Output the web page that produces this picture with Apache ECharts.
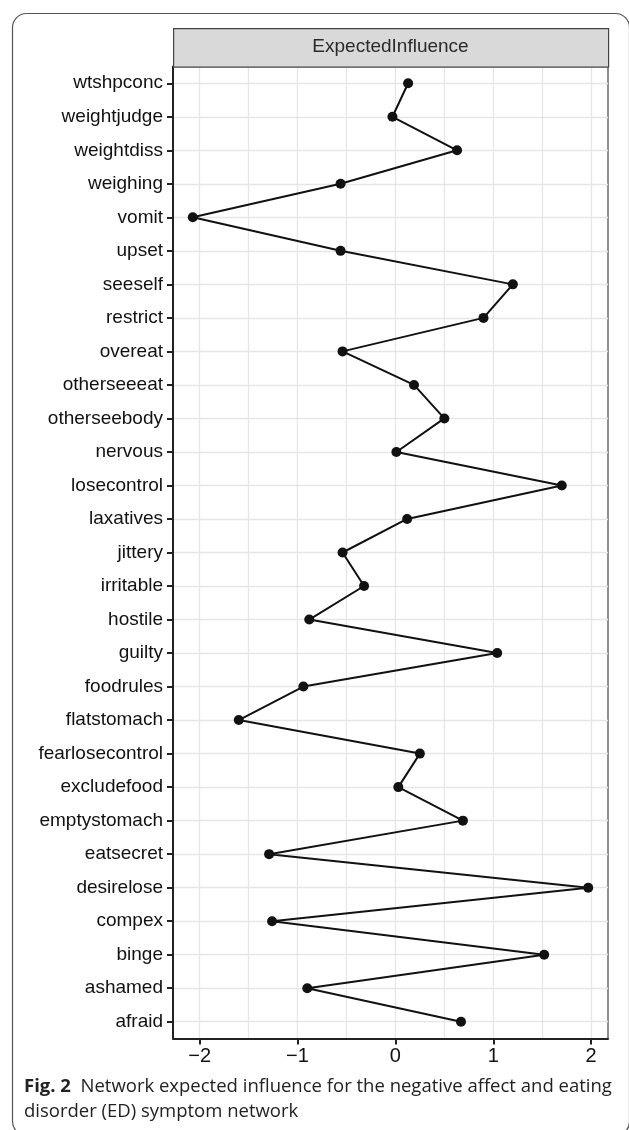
<!DOCTYPE html>
<html>
<head>
<meta charset="utf-8">
<script src="https://cdn.jsdelivr.net/npm/echarts@6/dist/echarts.min.js"></script>
<style>
html,body{margin:0;padding:0;background:#fff;}
#chart{width:629px;height:1130px;}
</style>
</head>
<body>
<div id="chart"></div>
<script>
const categories = ['wtshpconc','weightjudge','weightdiss','weighing','vomit','upset','seeself','restrict','overeat','otherseeeat','otherseebody','nervous','losecontrol','laxatives','jittery','irritable','hostile','guilty','foodrules','flatstomach','fearlosecontrol','excludefood','emptystomach','eatsecret','desirelose','compex','binge','ashamed','afraid'];
const expectedInfluence = [0.13,-0.03,0.63,-0.56,-2.07,-0.56,1.20,0.90,-0.54,0.19,0.50,0.01,1.70,0.12,-0.54,-0.32,-0.88,1.04,-0.94,-1.60,0.25,0.03,0.69,-1.29,1.97,-1.26,1.52,-0.90,0.67];
const xTickLabels = [-2,-1,0,1,2];
const xGridValues = [-2,-1.5,-1,-0.5,0,0.5,1,1.5,2];
const xMin = -2.272, xMax = 2.172;
const stripTitle = 'ExpectedInfluence';
const captionBold = 'Fig. 2';
const captionText = '  Network expected influence for the negative affect and eating\ndisorder (ED) symptom network';

const chart = echarts.init(document.getElementById('chart'));
const gridL = 173, gridR = 608, gridT = 66.5, gridB = 1038.5;
chart.setOption({
  backgroundColor: '#fff',
  animation: false,
  grid: {left: gridL, right: 629 - gridR, top: gridT, bottom: 1130 - gridB, show: true, borderColor: '#444', borderWidth: 1.2, containLabel: false},
  xAxis: [
    {
      type: 'value', min: xMin, max: xMax, position: 'bottom',
      axisLine: {show: true, onZero: false, lineStyle: {color: '#222', width: 2}},
      axisTick: {show: true, length: 6, customValues: xTickLabels, lineStyle: {color: '#222', width: 2}},
      axisLabel: {customValues: xTickLabels, margin: 8, fontFamily: 'Liberation Sans', fontSize: 20, color: '#111',
        formatter: v => v < 0 ? '\u2212' + Math.abs(v) : String(v)},
      splitLine: {show: false}
    },
    {
      type: 'value', min: xMin, max: xMax, position: 'top',
      axisLine: {show: false},
      axisTick: {show: false, customValues: xGridValues},
      axisLabel: {show: false, customValues: xGridValues},
      splitLine: {show: true, lineStyle: {color: '#e6e6e6', width: 1.3}}
    }
  ],
  yAxis: {
    type: 'category', data: categories, inverse: true, boundaryGap: true,
    axisLine: {show: true, onZero: false, lineStyle: {color: '#222', width: 2}},
    axisTick: {show: true, alignWithLabel: true, length: 6, lineStyle: {color: '#222', width: 2}},
    axisLabel: {margin: 10, fontFamily: 'Liberation Sans', fontSize: 19, color: '#111'},
    splitLine: {show: true, alignWithLabel: true, lineStyle: {color: '#e6e6e6', width: 1.3}}
  },
  series: [{
    type: 'line', xAxisIndex: 0, data: expectedInfluence,
    symbol: 'circle', symbolSize: 10,
    lineStyle: {color: '#111', width: 2},
    itemStyle: {color: '#111'},
    z: 5
  }],
  graphic: [
    {type: 'rect', left: 10, top: 11, shape: {width: 617, height: 1122, r: 14}, style: {fill: 'none', stroke: '#555', lineWidth: 1.2}, z: 1},
    {type: 'rect', left: gridL, top: 28, shape: {width: gridR - gridL, height: gridT - 28}, style: {fill: '#d9d9d9', stroke: '#444', lineWidth: 1.2}, z: 2},
    {type: 'text', x: (gridL + gridR) / 2, y: (28 + gridT) / 2, style: {text: stripTitle, fontFamily: 'Liberation Sans', fontSize: 19, fill: '#2a2a2a', align: 'center', verticalAlign: 'middle'}, z: 3},
    {type: 'text', x: 24, y: 1074, style: {text: '{b|' + captionBold + '}' + captionText, fontFamily: 'Open Sans', fontSize: 18.5, fill: '#222', lineHeight: 25,
      rich: {b: {fontWeight: 'bold', fontFamily: 'Open Sans', fontSize: 18.5, fill: '#222'}}}, z: 3}
  ]
});
</script>
</body>
</html>
